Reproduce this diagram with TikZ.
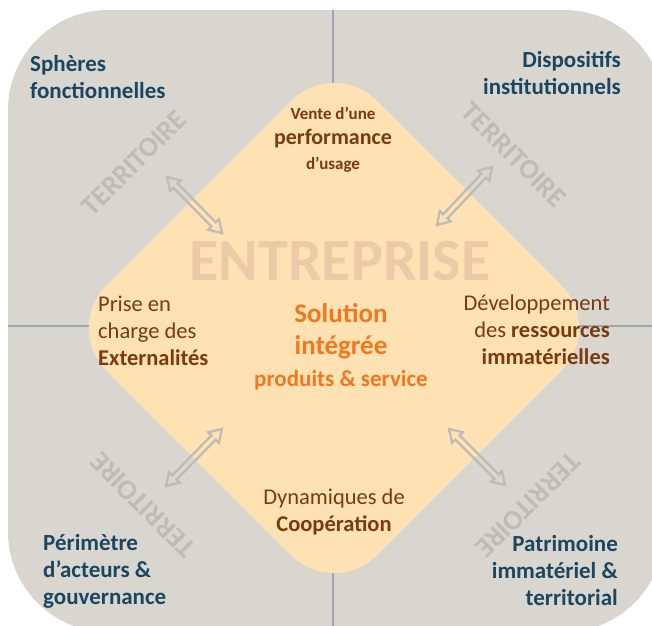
\documentclass[tikz,border=0pt]{standalone}
\usepackage{fontspec}
\setmainfont{Carlito}
\usetikzlibrary{calc}

\definecolor{bggray}{HTML}{D9D6D0}
\definecolor{sepgray}{HTML}{9BA6AD}
\definecolor{corepeach}{HTML}{FEE2B4}
\definecolor{bluetext}{HTML}{1A4661}
\definecolor{browntext}{HTML}{7A3A0E}
\definecolor{solorange}{HTML}{F2781E}
\definecolor{entcolor}{HTML}{EDCAA7}
\definecolor{terrgray}{HTML}{BFBCB6}

\tikzstyle{outer} = [fill=bggray, rounded corners=100pt]
\tikzstyle{sep} = [draw=sepgray, line width=2pt]
\tikzstyle{core} = [fill=corepeach, rounded corners=60pt]
\tikzstyle{sphere} = [inner sep=0pt, text=bluetext, font=\bfseries\fontsize{23}{27}\selectfont]
\tikzstyle{lever} = [inner sep=0pt, text=browntext, font=\fontsize{22.5}{27}\selectfont]
\tikzstyle{terr} = [inner sep=0pt, text=terrgray, font=\bfseries\fontsize{28}{30}\selectfont]
\tikzstyle{link} = [draw=terrgray, line width=2.3pt, line join=miter]

% hollow double-headed arrow between two named coordinates
\newcommand{\terrlink}[2]{%
  \draw[link] (#1)
    -- ($(#1)!12pt!(#2)!7.5pt!90:(#2)$) -- ($(#1)!12pt!(#2)!3pt!90:(#2)$)
    -- ($(#2)!12pt!(#1)!3pt!-90:(#1)$) -- ($(#2)!12pt!(#1)!7.5pt!-90:(#1)$)
    -- (#2)
    -- ($(#2)!12pt!(#1)!7.5pt!90:(#1)$) -- ($(#2)!12pt!(#1)!3pt!90:(#1)$)
    -- ($(#1)!12pt!(#2)!3pt!-90:(#2)$) -- ($(#1)!12pt!(#2)!7.5pt!-90:(#2)$)
    -- cycle;}

\begin{document}
\begin{tikzpicture}[x=1pt,y=-1pt]
  \clip (0,0) rectangle (652,625);

  % territory and its four quadrants
  \fill[outer] (8,10) rectangle (664,632);
  \draw[sep] (333,10) -- (333,632);
  \draw[sep] (8,326) -- (664,326);

  % the firm
  \fill[core] (334,58) -- (604,328) -- (334,598) -- (64,328) -- cycle;
  \node (ent) [inner sep=0pt, text=entcolor, font=\bfseries\fontsize{60}{60}\selectfont] at (340,261) {ENTREPRISE};

  \node (terA) [terr, rotate=45] at (134,163) {TERRITOIRE};
  \node (terB) [terr, rotate=-45] at (514,155) {TERRITOIRE};
  \node (terC) [terr, rotate=135] at (143,505) {TERRITOIRE};
  \node (terD) [terr, rotate=-135] at (528,505) {TERRITOIRE};

  \node (sph) [sphere, anchor=west, align=left] at (30,77) {Sphères\\fonctionnelles};
  \node (disp) [sphere, anchor=east, align=right] at (621,73) {Dispositifs\\institutionnels};
  \node (perim) [sphere, anchor=west, align=left] at (43,571) {Périmètre\\d’acteurs \&\\gouvernance};
  \node (patri) [sphere, anchor=east, align=right] at (618,570) {Patrimoine\\immatériel \&\\territorial};

  \node (vente) [lever, align=center, font=\bfseries\fontsize{22}{25}\selectfont] at (333,140)
    {{\fontsize{17}{25}\selectfont Vente d’une}\\performance\\{\fontsize{17}{25}\selectfont d’usage}};
  \node (prise) [lever, anchor=west, align=left] at (98,331) {Prise en\\charge des\\\textbf{Externalités}};
  \node (dev) [lever, anchor=east, align=right] at (610,330) {Développement\\des \textbf{ressources}\\\textbf{immatérielles}};
  \node (dyn) [lever, align=center] at (334,512) {Dynamiques de\\\textbf{Coopération}};

  \node (sol) [inner sep=0pt, align=center, text=solorange, font=\bfseries\fontsize{27}{32}\selectfont] at (341,347)
    {Solution\\intégrée\\{\fontsize{23}{30}\selectfont produits \& service}};

  % links between firm and territory
  \coordinate (tlA) at (167,177);
  \coordinate (tlB) at (222,233);
  \coordinate (trA) at (492,167);
  \coordinate (trB) at (437,225);
  \coordinate (blA) at (222,429);
  \coordinate (blB) at (166,486);
  \coordinate (brA) at (449,429);
  \coordinate (brB) at (505,485);
  \terrlink{tlA}{tlB}
  \terrlink{trA}{trB}
  \terrlink{blA}{blB}
  \terrlink{brA}{brB}
\end{tikzpicture}
\end{document}
